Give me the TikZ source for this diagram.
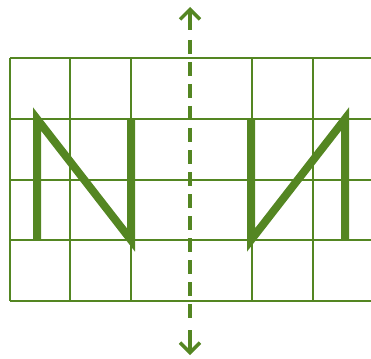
\documentclass[tikz,border=0pt]{standalone}
\usetikzlibrary{arrows.meta}
\definecolor{gr}{RGB}{84,134,34}
\begin{document}
\begin{tikzpicture}[x=1pt,y=-1pt,
  gridline/.style={gr,line width=2.6pt},
  letter/.style={gr,line width=8pt,line join=miter,line cap=butt},
  axisline/.style={gr,line width=4pt},
  tip/.style={-{Straight Barb[length=10pt,width=20pt,line width=3.5pt]}}]
\useasboundingbox (0,0) rectangle (371,358);
\clip (0,0) rectangle (371,358);
% horizontal grid lines
\foreach \y in {58,119,180,240,301}
  \draw[gridline] (10,\y) -- (375,\y);
% vertical grid lines
\foreach \x in {10,70,131,252,313,373}
  \draw[gridline] (\x,58) -- (\x,301);
% letter N
\draw[letter] (37,240) -- (37,119) -- (131,240) -- (131,119);
% mirrored letter
\draw[letter] (251,119) -- (251,240) -- (345,119) -- (345,240);
% axis of symmetry
\coordinate (atop) at (190,7);
\coordinate (abot) at (190,355);
\coordinate (s1) at (190,30);
\coordinate (s2) at (190,330);
\draw[axisline,tip] (s1) -- (atop);
\draw[axisline,tip] (s2) -- (abot);
\draw[axisline,dash pattern=on 14pt off 8pt] (190,40) -- (190,322);
\end{tikzpicture}
\end{document}
